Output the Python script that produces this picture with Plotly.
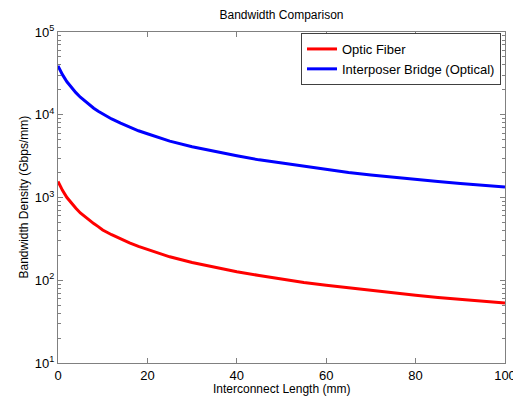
import plotly.graph_objects as go

length_mm = [0, 1, 2, 3, 4, 5, 6, 7, 8, 9, 10, 12, 14, 16, 18, 20, 25, 30, 35, 40, 45, 50,
             55, 60, 65, 70, 75, 80, 85, 90, 95, 100]
optic_fiber = [1560, 1220, 1000, 850, 740, 650, 585, 530, 484, 445, 405, 355, 315, 283, 257, 235,
               192, 164, 143, 127, 114, 103, 94, 87, 81, 75, 70, 66, 62, 59, 56, 53]
interposer_bridge = [39000, 30500, 25000, 21200, 18500, 16300, 14600, 13200, 12000, 11000, 10200,
                     8900, 7900, 7100, 6400, 5900, 4800, 4100, 3600, 3200, 2850, 2600, 2360, 2170,
                     2000, 1870, 1750, 1650, 1560, 1480, 1400, 1340]
x_ticks = [0, 20, 40, 60, 80, 100]
y_tickvals = [10, 100, 1000, 10000, 100000]
y_ticktext = ["10<sup>1</sup>", "10<sup>2</sup>", "10<sup>3</sup>", "10<sup>4</sup>", "10<sup>5</sup>"]

FONT = "Liberation Sans, Arial, sans-serif"
AX = "#808080"
# the page body adds an 8 px margin, so the figure is 8 px smaller than the window
W, H = 513, 391
L, R, T, B = 50, 16, 24, 36

fig = go.Figure()
fig.add_trace(go.Scatter(x=length_mm, y=optic_fiber, mode="lines", name="Optic Fiber",
                         line=dict(color="#ff0000", width=3)))
fig.add_trace(go.Scatter(x=length_mm, y=interposer_bridge, mode="lines",
                         name="Interposer Bridge (Optical)",
                         line=dict(color="#0000ff", width=3)))

fig.update_layout(
    width=W, height=H,
    margin=dict(l=L, r=R, t=T, b=B),
    paper_bgcolor="white", plot_bgcolor="white",
    font=dict(family=FONT, size=12, color="#000000"),
    title=dict(text="Bandwidth Comparison", x=(L + (W - R)) / 2 / W, xanchor="center",
               y=1 - 3 / H, yanchor="top", font=dict(size=12)),
    showlegend=True,
    legend=dict(x=0.991, y=0.997, xanchor="right", yanchor="top",
                bgcolor="white", bordercolor="#404040", borderwidth=1,
                font=dict(size=13), tracegroupgap=0, itemwidth=30),
    annotations=[
        dict(text="Interconnect Length (mm)", xref="paper", yref="paper", x=0.5, y=0,
             xanchor="center", yanchor="middle", yshift=-26, showarrow=False,
             font=dict(size=12)),
        dict(text="Bandwidth Density (Gbps/mm)", xref="paper", yref="paper", x=0, y=0.5,
             xanchor="center", yanchor="middle", xshift=-35, textangle=-90, showarrow=False,
             font=dict(size=12)),
    ],
)
fig.update_xaxes(
    range=[0, 100], tickvals=x_ticks, ticks="inside", ticklen=5, tickcolor=AX,
    showline=True, linecolor=AX, linewidth=1, mirror="ticks", showgrid=False, zeroline=False,
    automargin=False, tickfont=dict(size=13),
)
fig.update_yaxes(
    type="log", range=[1, 5], tickvals=y_tickvals, ticktext=y_ticktext,
    ticks="inside", ticklen=5, tickcolor=AX,
    minor=dict(ticks="inside", ticklen=3, tickcolor=AX, dtick="D1", showgrid=False),
    showline=True, linecolor=AX, linewidth=1, mirror="ticks", showgrid=False, zeroline=False,
    automargin=False, tickfont=dict(size=13),
)

fig.write_html("out.html")
